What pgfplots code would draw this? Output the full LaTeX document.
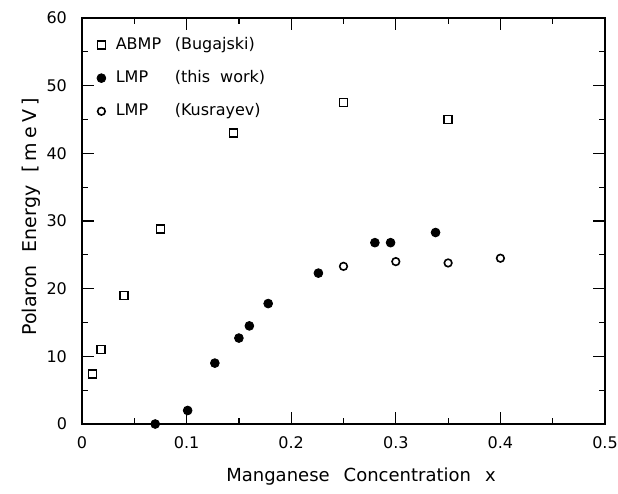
\documentclass[border=0pt]{standalone}
\usepackage{fontspec}
\setmainfont{DejaVu Sans}
\usepackage{pgfplots}
\pgfplotsset{compat=1.18}
\begin{document}
\begin{tikzpicture}
\begin{axis}[
  name=ax,
  scale only axis,
  width=261.5pt, height=203pt,
  xmin=0, xmax=0.5, ymin=0, ymax=60,
  xtick={0,0.1,0.2,0.3,0.4,0.5},
  xticklabels={0,0.1,0.2,0.3,0.4,0.5},
  ytick={0,10,20,30,40,50,60},
  minor x tick num=1, minor y tick num=1,
  tick align=inside,
  major tick length=6pt, minor tick length=3pt,
  tick style={black, line width=0.6pt},
  axis line style={line width=0.6pt},
  /pgf/number format/assume math mode=true,
  ticklabel style={font=\fontsize{8}{9}\selectfont},
  xticklabel style={yshift=-3pt},
  yticklabel style={xshift=-4pt},
  xlabel={Manganese\hspace{7pt}Concentration\hspace{7pt}x},
  ylabel={Polaron\hspace{6.5pt}Energy\hspace{6.5pt}[\hspace{2pt}m\hspace{2pt}e\hspace{2pt}V\hspace{2pt}]},
  xlabel style={font=\fontsize{9}{10}\selectfont, at={([xshift=8.75pt,yshift=-28.5pt]axis description cs:0.5,0)}, anchor=base},
  ylabel style={font=\fontsize{9.5}{10}\selectfont, at={([xshift=-22.5pt,yshift=2pt]axis description cs:0,0.5)}, anchor=base, rotate=0},
  legend style={draw=none, fill=none, at={([xshift=4.3pt,yshift=-5.5pt]axis description cs:0,1)}, anchor=north west,
    font=\fontsize{8}{9}\selectfont, row sep=5pt},
  legend cell align=left,
]
\addplot[only marks, mark=square*, mark size=2pt, mark options={draw=black, fill=white, line width=0.7pt}] coordinates {
  (0.010,7.4) (0.018,11.0) (0.040,19.0) (0.075,28.8) (0.145,43.0) (0.250,47.5) (0.350,45.0)
};
\addlegendentry{\hspace*{3pt}\makebox[29.5pt][l]{ABMP}(Bugajski)}
\addplot[only marks, mark=*, mark size=2.2pt, black] coordinates {
  (0.070,0.0) (0.101,2.0) (0.127,9.0) (0.150,12.7) (0.160,14.5) (0.178,17.8)
  (0.226,22.3) (0.280,26.8) (0.295,26.8) (0.338,28.3)
};
\addlegendentry{\hspace*{3pt}\makebox[29.5pt][l]{LMP}(this\hspace{5pt}work)}
\addplot[only marks, mark=o, mark size=1.9pt, mark options={line width=0.8pt}] coordinates {
  (0.250,23.3) (0.300,24.0) (0.350,23.8) (0.400,24.5)
};
\addlegendentry{\hspace*{3pt}\makebox[29.5pt][l]{LMP}(Kusrayev)}
\end{axis}
\pgfresetboundingbox
\path ([shift={(-41pt,-34.5pt)}]ax.south west) rectangle ([shift={(6.5pt,9pt)}]ax.north east);
\end{tikzpicture}
\end{document}
